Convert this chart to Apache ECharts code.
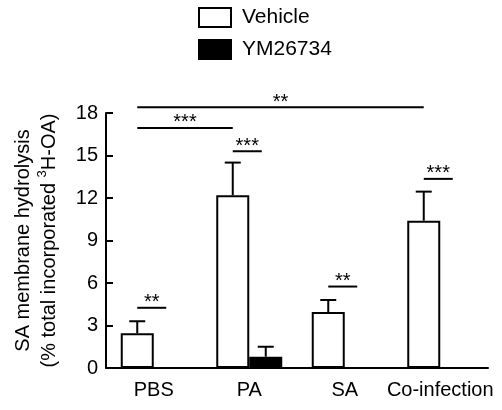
<!DOCTYPE html>
<html><head><meta charset="utf-8">
<script src="https://cdn.jsdelivr.net/npm/echarts@6/dist/echarts.min.js"></script>
<style>html,body{margin:0;padding:0;background:#fff}#c{width:502px;height:410px}</style>
</head><body><div id="c"></div>
<script>
// ---- data ----
const categories = ['PBS', 'PA', 'SA', 'Co-infection'];
const seriesNames = ['Vehicle', 'YM26734'];
const vehicleMean = [2.45, 12.2, 3.95, 10.4];
const vehicleErr = [0.85, 2.3, 0.85, 2.05];
const ymMean = [0, 0.8, 0, 0];
const ymErr = [0, 0.7, 0, 0];
const yTicks = [0, 3, 6, 9, 12, 15, 18];
// significance comparisons: [categoryIndex, groupIndex]
const sigFrom = [[0, 0], [1, 0], [2, 0], [3, 0], [0, 0], [0, 0]];
const sigTo = [[0, 1], [1, 1], [2, 1], [3, 1], [1, 0], [3, 0]];
const sigY = [4.25, 15.3, 5.75, 13.35, 16.95, 18.4];
const sigText = ['**', '***', '**', '***', '***', '**'];

// ---- styles ----
const FONT = 'Liberation Sans, Arial, sans-serif';
const BAR_W = 33;
const chart = echarts.init(document.getElementById('c'), null, {renderer: 'canvas'});

const errData = [];
vehicleMean.forEach((m, i) => { if (vehicleErr[i] > 0) errData.push([i, m, vehicleErr[i], 0]); });
ymMean.forEach((m, i) => { if (ymErr[i] > 0) errData.push([i, m, ymErr[i], 1]); });

const sigData = sigY.map((y, i) => [sigFrom[i][0], sigFrom[i][1], sigTo[i][0], sigTo[i][1], y]);

function barCenter(api, cat, grp, y) {
  const p = api.coord([cat, y]);
  return [p[0] + (grp === 0 ? -1 : 1) * BAR_W / 2, p[1]];
}

const option = {
  animation: false,
  backgroundColor: '#fff',
  textStyle: {fontFamily: FONT, color: '#000'},
  legend: {
    data: seriesNames.map(n => ({name: n, icon: 'rect'})),
    orient: 'vertical',
    left: 198, top: 7,
    padding: 0,
    itemWidth: 32, itemHeight: 19, itemGap: 11,
    textStyle: {fontFamily: FONT, fontSize: 21, color: '#000', padding: [0, 0, 0, 6]}
  },
  grid: {left: 106, right: 14, top: 113, bottom: 42, containLabel: false},
  xAxis: {
    type: 'category',
    data: categories,
    axisLine: {lineStyle: {color: '#000', width: 2}},
    axisTick: {show: false},
    axisLabel: {interval: 0, fontFamily: FONT, fontSize: 20, color: '#000', margin: 12}
  },
  yAxis: {
    type: 'value',
    min: yTicks[0], max: yTicks[yTicks.length - 1], interval: yTicks[1] - yTicks[0],
    splitLine: {show: false},
    axisLine: {show: true, lineStyle: {color: '#000', width: 2}},
    axisTick: {show: true, inside: true, length: 7, lineStyle: {color: '#000', width: 2}},
    axisLabel: {fontFamily: FONT, fontSize: 20, color: '#000', margin: 8},
    name: '{a|SA membrane hydrolysis}\n{a|(% total incorporated }{s|3}{a|H-OA)}',
    nameLocation: 'middle',
    nameRotate: 90,
    nameGap: 44,
    nameTextStyle: {
      fontFamily: FONT, fontSize: 20, color: '#000', lineHeight: 26,
      rich: {
        a: {fontFamily: FONT, fontSize: 20, color: '#000', lineHeight: 26},
        s: {fontFamily: FONT, fontSize: 13, color: '#000', lineHeight: 14, verticalAlign: 'top'}
      }
    }
  },
  series: [
    {
      name: seriesNames[0], type: 'bar', data: vehicleMean,
      barWidth: BAR_W, barGap: '0%',
      itemStyle: {color: '#fff', borderColor: '#000', borderWidth: 2}
    },
    {
      name: seriesNames[1], type: 'bar', data: ymMean,
      barWidth: BAR_W, barGap: '0%',
      itemStyle: {color: '#000', borderColor: '#000', borderWidth: 2}
    },
    {
      type: 'custom', data: errData, z: 5,
      renderItem: function (params, api) {
        const cat = api.value(0), m = api.value(1), e = api.value(2), g = api.value(3);
        const b = barCenter(api, cat, g, m);
        const t = barCenter(api, cat, g, m + e);
        return {type: 'group', children: [
          {type: 'line', shape: {x1: b[0], y1: b[1], x2: t[0], y2: t[1]}, style: {stroke: '#000', lineWidth: 2}},
          {type: 'line', shape: {x1: t[0] - 8, y1: t[1], x2: t[0] + 8, y2: t[1]}, style: {stroke: '#000', lineWidth: 2}}
        ]};
      }
    },
    {
      type: 'custom', data: sigData, z: 5,
      renderItem: function (params, api) {
        const y = api.value(4);
        const a = barCenter(api, api.value(0), api.value(1), y);
        const b = barCenter(api, api.value(2), api.value(3), y);
        const x2 = api.value(3) === 1 ? b[0] - 4 : b[0];
        return {type: 'group', children: [
          {type: 'line', shape: {x1: a[0], y1: a[1], x2: x2, y2: a[1]}, style: {stroke: '#000', lineWidth: 2}},
          {type: 'text', x: (a[0] + x2) / 2, y: a[1] + 5,
            style: {text: sigText[params.dataIndex], fontFamily: FONT, fontSize: 20, fill: '#000', align: 'center', verticalAlign: 'bottom'}}
        ]};
      }
    }
  ]
};
chart.setOption(option);
</script>
</body></html>
